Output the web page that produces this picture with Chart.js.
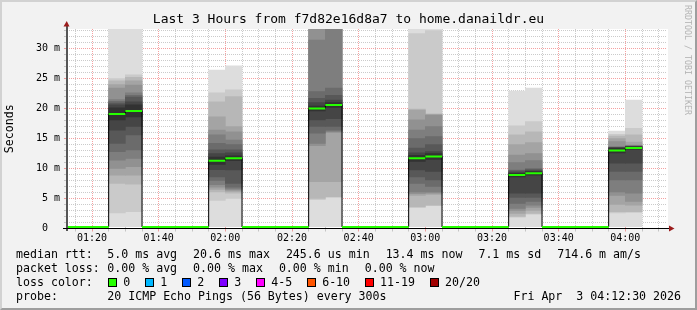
<!DOCTYPE html>
<html>
<head>
<meta charset="utf-8">
<script src="https://cdn.jsdelivr.net/npm/chart.js@4/dist/chart.umd.min.js"></script>
<style>
  body { margin: 0; background: #f2f2f2; }
  #wrap { position: relative; width: 697px; height: 310px; background: #f2f2f2; overflow: hidden;
          font-family: "DejaVu Sans Mono", monospace; color: #000; }
  #frame { position: absolute; left: 0; top: 0; width: 697px; height: 310px; box-sizing: border-box;
           border-style: solid; border-width: 2px; border-color: #d2d2d2 #9e9e9e #9e9e9e #d2d2d2; pointer-events: none; }
  canvas { position: absolute; left: 0; top: 0; }
  #title { position: absolute; left: 0; top: 11px; width: 697px; text-align: center; font-size: 13px;
           line-height: 16px; white-space: pre; }
  #wm { position: absolute; left: 693px; top: 5px; font-size: 8.3px; line-height: 10px; color: #b4b4b4;
        white-space: pre; transform: rotate(90deg); transform-origin: left top; }
  .tx { position: absolute; white-space: pre; font-size: 11.6px; line-height: 14px; }
  .box { position: absolute; width: 7px; height: 7px; border: 1px solid #000; }
</style>
</head>
<body>
<div id="wrap">
  <canvas id="chart" width="697" height="310"></canvas>
  <div id="title">Last 3 Hours from f7d82e16d8a7 to home.danaildr.eu</div>
  <div id="wm">RRDTOOL / TOBI OETIKER</div>
  <div id="legend"></div>
  <div id="frame"></div>
</div>
<script>
// ---- data (ms) ----
const stepTimes = ['01:10','01:15','01:20','01:25','01:30','01:35','01:40','01:45','01:50','01:55',
                   '02:00','02:05','02:10','02:15','02:20','02:25','02:30','02:35','02:40','02:45',
                   '02:50','02:55','03:00','03:05','03:10','03:15','03:20','03:25','03:30','03:35',
                   '03:40','03:45','03:50','03:55','04:00'];
const medianRtt = [0.26, 0.25, 0.27, 19.1, 19.6, 0.26, 0.25, 0.27, 0.26, 11.3,
                   11.7, 0.25, 0.26, 0.27, 0.25, 20.0, 20.6, 0.26, 0.25, 0.27,
                   0.26, 11.7, 12.0, 0.25, 0.26, 0.25, 0.27, 8.9, 9.2, 0.26,
                   0.25, 0.26, 0.27, 13.0, 13.4];

const smokeTimes = ['01:25','01:30','01:55','02:00','02:25','02:30','02:55','03:00','03:25','03:30','03:55','04:00'];
const smokePings = [
  [0.3, 2.6, 7.5, 8.9, 10.0, 11.4, 12.8, 14.2, 16.4, 18.1, 20.1, 20.6, 20.9, 21.2, 21.5, 23.4, 24.0, 24.6, 25.0, 40.0],
  [0.3, 2.8, 7.4, 8.9, 10.3, 11.7, 13.1, 15.6, 17.0, 18.6, 20.6, 21.1, 21.9, 22.2, 22.6, 23.9, 24.6, 25.2, 25.6, 38.0],
  [0.3, 4.7, 6.1, 6.5, 6.9, 7.3, 8.0, 8.6, 9.8, 10.7, 11.9, 12.5, 13.1, 14.2, 15.6, 16.4, 18.6, 21.1, 22.6, 26.4],
  [0.3, 5.0, 5.9, 6.2, 6.4, 6.6, 6.9, 7.5, 9.75, 11.3, 12.1, 12.6, 13.1, 14.0, 14.75, 16.1, 17.0, 22.0, 23.1, 27.1],
  [0.3, 4.8, 5.0, 7.8, 13.8, 14.2, 15.9, 17.0, 18.1, 19.6, 20.4, 21.0, 21.7, 22.8, 31.4, 36.0, 40.0, 45.0, 50.0, 60.0],
  [0.3, 5.2, 5.3, 7.8, 16.0, 16.2, 16.4, 17.0, 18.3, 20.2, 21.0, 21.4, 22.2, 23.4, 35.0, 38.0, 42.0, 46.0, 52.0, 60.0],
  [0.3, 3.5, 3.6, 5.5, 5.8, 6.1, 7.5, 8.6, 9.75, 11.2, 12.2, 12.6, 13.4, 15.0, 16.4, 18.1, 19.75, 19.9, 32.5, 38.0],
  [0.3, 3.8, 3.9, 5.7, 5.9, 6.1, 7.0, 8.1, 9.5, 11.5, 12.5, 12.8, 14.0, 15.3, 17.0, 18.9, 19.0, 19.1, 33.0, 38.0],
  [0.3, 1.9, 2.0, 2.5, 3.0, 3.35, 4.2, 5.2, 5.9, 8.6, 9.2, 9.4, 9.6, 9.75, 11.0, 12.25, 14.0, 15.6, 17.1, 22.9],
  [0.3, 2.4, 2.5, 3.0, 3.5, 3.9, 4.5, 5.2, 5.9, 8.9, 9.5, 9.6, 9.8, 10.0, 11.3, 12.5, 14.3, 16.1, 17.8, 23.4],
  [0.3, 2.6, 2.8, 4.0, 5.5, 6.1, 8.1, 9.5, 10.9, 12.6, 13.4, 13.45, 13.5, 13.55, 13.6, 14.5, 15.0, 15.4, 15.7, 16.25],
  [0.3, 2.7, 2.8, 3.9, 4.5, 5.9, 8.1, 9.5, 10.9, 13.2, 13.6, 13.65, 13.7, 13.75, 13.8, 13.9, 14.4, 15.6, 16.7, 21.4]
];

const xTickLabels = ['01:20','01:40','02:00','02:20','02:40','03:00','03:20','03:40','04:00'];
const yTickLabels = ['0', '5 m', '10 m', '15 m', '20 m', '25 m', '30 m'];
const yTop = 33.25;

const rttStats  = ['5.0 ms avg', '20.6 ms max', '245.6 us min', '13.4 ms now', '7.1 ms sd', '714.6 m am/s'];
const lossStats = ['0.00 % avg', '0.00 % max', '0.00 % min', '0.00 % now'];
const lossLabels = ['0', '1', '2', '3', '4-5', '6-10', '11-19', '20/20'];
const lossColors = ['#26ff00', '#00b8ff', '#0059ff', '#7e00ff', '#ff00ff', '#ff5500', '#ff0000', '#a10000'];
const probeText = '20 ICMP Echo Pings (56 Bytes) every 300s';
const stampText = 'Fri Apr  3 04:12:30 2026';

// ---- helpers ----
const STEP = 5;
const toMin = s => { const p = s.split(':'); return +p[0] * 60 + +p[1]; };
const viewEnd = toMin('04:12') + 0.5;
const viewStart = viewEnd - 180;
const MONO = '"DejaVu Sans Mono", monospace';
const GRID  = 'rgba(140,140,140,0.45)';
const MGRID = 'rgba(230,30,30,0.42)';
const majorX = xTickLabels.map(toMin);

// smokeping style smoke: pair i spans ping i .. ping 21-i
const smokeSets = [];
for (let k = 0; k < 10; k++) {
  const c = Math.floor(190 / 10 * (9 - k)) + 50;
  smokeSets.push({
    type: 'bar',
    data: smokeTimes.map((t, j) => ({ x: toMin(t) + STEP / 2, y: [smokePings[j][k], smokePings[j][19 - k]] })),
    backgroundColor: 'rgb(' + c + ',' + c + ',' + c + ')',
    borderWidth: 0,
    grouped: false,
    barPercentage: 1,
    categoryPercentage: 1,
    order: 20 - k
  });
}

const stepPts = stepTimes.map((t, i) => ({ x: toMin(t), y: medianRtt[i] }));
stepPts.push({ x: toMin(stepTimes[stepTimes.length - 1]) + STEP, y: medianRtt[medianRtt.length - 1] });

const greenPts = [];
stepTimes.forEach((t, i) => {
  const s = toMin(t);
  greenPts.push({ x: s, y: medianRtt[i] }, { x: s + STEP, y: medianRtt[i] }, { x: s + STEP, y: null });
});

const plotBg = {
  id: 'plotBg',
  beforeDraw(chart) {
    const a = chart.chartArea, ctx = chart.ctx;
    ctx.save();
    ctx.fillStyle = '#ffffff';
    ctx.fillRect(a.left, a.top, a.right - a.left + 1, a.bottom - a.top);
    ctx.restore();
  }
};

const axes = {
  id: 'axes',
  afterDraw(chart) {
    const a = chart.chartArea, ctx = chart.ctx;
    const yb = Math.floor(a.bottom), xl = Math.floor(a.left) - 1;
    ctx.save();
    ctx.fillStyle = '#555';
    ctx.fillRect(xl, a.top - 4, 2, yb - a.top + 7);
    ctx.fillStyle = '#000';
    ctx.fillRect(xl - 3, yb, a.right - xl + 5, 1);
    ctx.fillStyle = '#9b1c1c';
    ctx.beginPath();
    ctx.moveTo(xl - 2.5, a.top - 2.5); ctx.lineTo(xl + 3.5, a.top - 2.5); ctx.lineTo(xl + 0.75, a.top - 8);
    ctx.closePath(); ctx.fill();
    ctx.beginPath();
    ctx.moveTo(a.right + 2, yb - 2.5); ctx.lineTo(a.right + 2, yb + 3.5); ctx.lineTo(a.right + 7.5, yb + 0.5);
    ctx.closePath(); ctx.fill();
    ctx.restore();
  }
};

const isMajorX = c => !!(c.tick && majorX.includes(c.tick.value));
const isMajorY = c => !!(c.tick && c.tick.value % 5 === 0);

new Chart(document.getElementById('chart'), {
  type: 'bar',
  data: {
    datasets: [
      { type: 'line', data: greenPts, borderColor: '#26ff00', borderWidth: 2, borderCapStyle: 'butt',
        pointRadius: 0, fill: false, spanGaps: false, order: 0 },
      { type: 'line', data: stepPts, stepped: 'before', borderColor: '#000', borderWidth: 1,
        pointRadius: 0, fill: false, order: 1 }
    ].concat(smokeSets)
  },
  options: {
    responsive: false,
    animation: false,
    events: [],
    layout: { padding: { left: 0, top: 29, right: 30, bottom: 61.5 } },
    plugins: { legend: { display: false }, tooltip: { enabled: false } },
    scales: {
      x: {
        type: 'linear',
        offset: false,
        min: viewStart,
        max: viewEnd,
        afterBuildTicks: s => {
          const t = [];
          for (let v = toMin('01:15'); v <= toMin('04:10'); v += STEP) t.push({ value: v });
          s.ticks = t;
        },
        afterFit: s => { s.height = 20; },
        grid: {
          offset: false,
          color: c => isMajorX(c) ? MGRID : GRID,
          lineWidth: 1,
          tickLength: 3
        },
        border: { display: false, dash: [1, 1] },
        ticks: {
          autoSkip: false,
          maxRotation: 0,
          padding: 1,
          color: '#000',
          font: { family: MONO, size: 10 },
          callback: v => { const i = majorX.indexOf(v); return i < 0 ? '' : xTickLabels[i]; }
        }
      },
      y: {
        min: 0,
        max: yTop,
        afterBuildTicks: s => {
          const t = [];
          for (let v = 0; v <= Math.floor(yTop); v++) t.push({ value: v });
          s.ticks = t;
        },
        afterFit: s => { s.width = 67; },
        grid: {
          color: c => isMajorY(c) ? MGRID : GRID,
          lineWidth: 1,
          tickLength: 3
        },
        border: { display: false, dash: [1, 1] },
        ticks: {
          autoSkip: false,
          padding: 4,
          color: '#000',
          font: { family: MONO, size: 10 },
          callback: v => v % 5 ? '' : (v === 0 ? yTickLabels[0] + '  ' : yTickLabels[v / 5])
        },
        title: {
          display: true,
          text: 'Seconds',
          color: '#000',
          font: { family: MONO, size: 11.6 },
          padding: { top: 3.5, bottom: 0 }
        }
      }
    }
  },
  plugins: [plotBg, axes]
});

// ---- legend (text rows below the graph) ----
const CH = 6.98, COL2 = 107.3, GAP = 16;
const rowTop = [247.3, 261, 275, 289];
const legend = document.getElementById('legend');
function put(text, x, row, extra) {
  const d = document.createElement('div');
  d.className = 'tx';
  d.textContent = text;
  d.style.left = x + 'px';
  d.style.top = rowTop[row] + 'px';
  if (extra) Object.assign(d.style, extra);
  legend.appendChild(d);
  return d;
}
put('median rtt:', 16, 0);
let x = COL2;
rttStats.forEach(s => { put(s, x, 0); x += s.length * CH + GAP; });

put('packet loss:', 16, 1);
x = COL2;
lossStats.forEach(s => { put(s, x, 1); x += s.length * CH + GAP; });

put('loss color:', 16, 2);
x = COL2;
lossLabels.forEach((s, i) => {
  const b = document.createElement('div');
  b.className = 'box';
  b.style.left = (x + 1) + 'px';
  b.style.top = '278px';
  b.style.background = lossColors[i];
  legend.appendChild(b);
  put(s, x + 16, 2);
  x += 30 + s.length * CH;
});

put('probe:', 16, 3);
put(probeText, COL2, 3);
put(stampText, 0, 3, { left: 'auto', right: '16px' });
</script>
</body>
</html>
